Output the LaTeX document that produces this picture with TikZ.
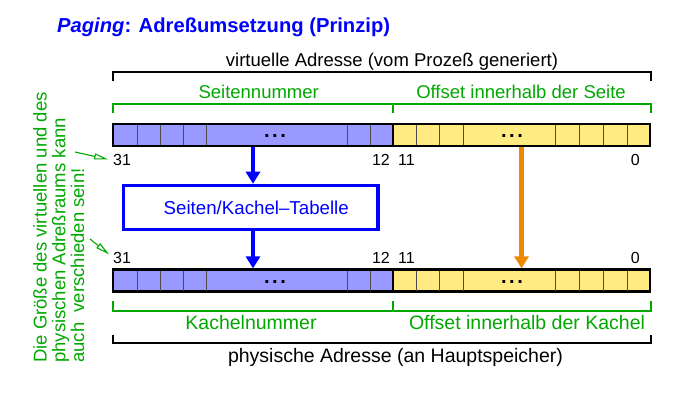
\documentclass[tikz,border=0pt]{standalone}
\usepackage{fontspec}
\setmainfont{Liberation Sans}
\usetikzlibrary{arrows.meta}
\definecolor{gruen}{RGB}{0,168,0}
\definecolor{seitenfarbe}{RGB}{153,153,255}
\definecolor{offsetfarbe}{RGB}{255,235,130}
\definecolor{orangefarbe}{RGB}{238,136,0}
\tikzset{
  reg/.style={draw=black,line width=2.2pt,inner sep=0pt,minimum height=22pt},
  zelle/.style={black!70,line width=0.9pt},
  klammer/.style={line width=1.8pt},
  oben/.style={inner sep=0pt,anchor=base,font=\fontsize{18.5}{22}\selectfont},
  unten/.style={inner sep=0pt,anchor=base,font=\fontsize{19.5}{23}\selectfont},
  zahl/.style={inner sep=0pt,font=\fontsize{16}{19}\selectfont},
  punkte/.style={inner sep=0pt,anchor=base,font=\bfseries\fontsize{20}{24}\selectfont},
  tabelle/.style={draw=blue,line width=3.5pt,text=blue,minimum width=254.5pt,minimum height=44pt,
    font=\fontsize{18.7}{22}\selectfont},
  blaupfeil/.style={blue,line width=4.5pt,-{Triangle[width=14pt,length=12pt]}},
  orangepfeil/.style={orangefarbe,line width=4.5pt,-{Triangle[width=14pt,length=12pt]}},
  hinweis/.style={gruen,line width=1.1pt,-{Triangle[open,width=6pt,length=14pt]},shorten >=5pt},
  hinweistext/.style={inner sep=0pt,anchor=base west,rotate=90,text=gruen,font=\fontsize{18.5}{22}\selectfont}
}
\begin{document}
\begin{tikzpicture}[x=1pt,y=-1pt]
\useasboundingbox (0,0) rectangle (686,401);
%
\node[inner sep=0pt,anchor=base west,text=blue,font=\bfseries\fontsize{20.2}{24}\selectfont] (titel) at (57,33)
  {\textit{Paging}: Adreßumsetzung (Prinzip)};
%
% virtuelle Adresse
\node[oben] (vadr) at (392,67) {virtuelle Adresse (vom Prozeß generiert)};
\draw[klammer] (113,81) -- (113,72) -- (651,72) -- (651,81);
\node[oben,text=gruen] (snr) at (258.7,99) {Seitennummer};
\node[oben,text=gruen] (soff) at (521,99) {Offset innerhalb der Seite};
\draw[klammer,gruen] (113,113) -- (113,104) -- (651,104) -- (651,113);
\draw[klammer,gruen] (393,104) -- (393,113);
%
\node[reg,fill=seitenfarbe,minimum width=280pt] (vseite) at (253,135) {};
\node[reg,fill=offsetfarbe,minimum width=257pt] (voff) at (521.5,135) {};
\node[reg,fill=seitenfarbe,minimum width=280pt] (pseite) at (253,280.5) {};
\node[reg,fill=offsetfarbe,minimum width=257pt] (poff) at (521.5,280.5) {};
\foreach \y in {135,280.5}
  \foreach \x in {137,160,183,206,347,370,416,439,463,555,579,603,627}
    \draw[zelle] (\x,\y-10) -- (\x,\y+10);
\node[punkte] (vdots1) at (275,137.5) {.\hspace{2.5pt}.\hspace{2.5pt}.};
\node[punkte] (vdots2) at (512,137.5) {.\hspace{2.5pt}.\hspace{2.5pt}.};
\node[punkte] (pdots1) at (275,283.5) {.\hspace{2.5pt}.\hspace{2.5pt}.};
\node[punkte] (pdots2) at (512,283.5) {.\hspace{2.5pt}.\hspace{2.5pt}.};
%
\node[zahl,anchor=base west] (v31) at (113,166) {31};
\node[zahl,anchor=base east] (v12) at (390,166) {12};
\node[zahl,anchor=base west] (v11) at (398,166) {11};
\node[zahl,anchor=base east] (v0) at (640,166) {0};
\node[zahl,anchor=base west] (p31) at (113,263) {31};
\node[zahl,anchor=base east] (p12) at (390,263) {12};
\node[zahl,anchor=base west] (p11) at (398,263) {11};
\node[zahl,anchor=base east] (p0) at (640,263) {0};
%
\node[tabelle] (tab) at (250.75,207.5) {\hspace*{11pt}Seiten/Kachel–Tabelle};
\draw[blaupfeil] (vseite.south) -- (vseite.south |- tab.north);
\draw[blaupfeil] (pseite.north |- tab.south) -- (pseite.north);
\draw[orangepfeil] (voff.south) -- (poff.north);
%
% physische Adresse
\draw[klammer,gruen] (113,301) -- (113,311) -- (651,311) -- (651,301);
\draw[klammer,gruen] (393,311) -- (393,301);
\node[unten,text=gruen] (knr) at (251,329) {Kachelnummer};
\node[unten,text=gruen] (koff) at (527,329) {Offset innerhalb der Kachel};
\draw[klammer] (113,335) -- (113,343) -- (651,343) -- (651,335);
\node[unten] (padr) at (395.5,362) {physische Adresse (an Hauptspeicher)};
%
% Hinweis links
\node[hinweistext] (hinw1) at (46.7,363) {Die Größe des virtuellen und des};
\node[hinweistext] (hinw2) at (65.4,363) {physischen Adreßraums kann};
\node[hinweistext] (hinw3) at (84,363) {auch~~verschieden sein!};
\coordinate (hstart1) at (75,152);
\coordinate (hstart2) at (90,239);
\draw[hinweis] (hstart1) -- (v31.west);
\draw[hinweis] (hstart2) -- (p31.west);
%
\end{tikzpicture}
\end{document}
